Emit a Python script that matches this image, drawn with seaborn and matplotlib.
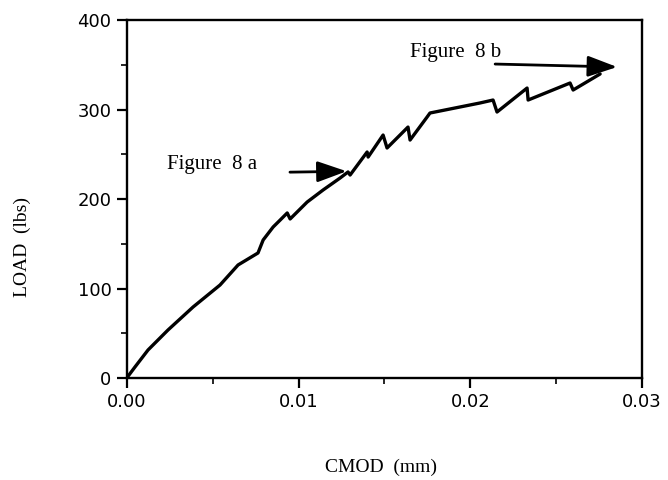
import matplotlib
matplotlib.use("Agg")
import matplotlib.pyplot as plt
import seaborn as sns
import pandas as pd
from matplotlib.ticker import MultipleLocator, FormatStrFormatter

# ---- data ----
cmod_mm = [0.0, 0.00048, 0.00124, 0.0024, 0.00386, 0.00543, 0.00648, 0.00764,
           0.00794, 0.00852, 0.00893, 0.00934, 0.00951, 0.0105, 0.01143, 0.01242,
           0.01288, 0.0130, 0.01399, 0.01405, 0.01492, 0.01515, 0.01637, 0.01649,
           0.01748, 0.01765, 0.02056, 0.02132, 0.02155, 0.0233, 0.02336, 0.0258,
           0.02598, 0.02755]
load_lbs = [0.0, 12.3, 31.3, 53.6, 79.3, 103.9, 126.3, 139.7,
            154.2, 168.7, 176.5, 184.4, 177.7, 196.6, 210.1, 223.5,
            230.2, 226.8, 252.5, 246.9, 271.5, 257.0, 280.4, 265.9,
            291.6, 296.1, 307.3, 310.6, 297.2, 324.0, 310.6, 329.6,
            321.8, 339.7]

x_ticks = [0.00, 0.01, 0.02, 0.03]
y_ticks = [0, 100, 200, 300, 400]

ann_a_text = "Figure  8 a"
ann_b_text = "Figure  8 b"

df = pd.DataFrame({"CMOD": cmod_mm, "LOAD": load_lbs})

sns.set_style("ticks")
plt.rcParams["font.family"] = ["DejaVu Sans"]

fig = plt.figure(figsize=(6.68, 4.8), dpi=100)
ax = fig.add_axes([0.1897, 0.2125, 0.7717, 0.7458])

sns.lineplot(data=df, x="CMOD", y="LOAD", sort=False, color="black",
             linewidth=2.4, ax=ax, estimator=None)

ax.set_xlim(0, 0.03)
ax.set_ylim(0, 400)
ax.set_xticks(x_ticks)
ax.set_yticks(y_ticks)
ax.xaxis.set_major_formatter(FormatStrFormatter("%.2f"))
ax.xaxis.set_minor_locator(MultipleLocator(0.005))
ax.yaxis.set_minor_locator(MultipleLocator(50))

for side in ["left", "bottom", "top", "right"]:
    ax.spines[side].set_visible(True)
    ax.spines[side].set_linewidth(1.7)
    ax.spines[side].set_color("black")

ax.tick_params(axis="both", which="major", direction="out", length=7, width=1.6,
               labelsize=13, pad=4, colors="black")
ax.tick_params(axis="both", which="minor", direction="out", length=4, width=1.4)
ax.tick_params(top=False, right=False, which="both")

serif = ["Liberation Serif", "DejaVu Serif"]
ax.set_xlabel("CMOD  (mm)", fontsize=14, family=serif, va="top", color="black")
ax.set_ylabel("LOAD  (lbs)", fontsize=14, family=serif, va="center", color="black")
ax.xaxis.set_label_coords(0.494, -0.225)
ax.yaxis.set_label_coords(-0.203, 0.366)

arrow_kw = dict(arrowstyle="-|>,head_length=0.9,head_width=0.32", color="black",
                lw=2.0, mutation_scale=20, shrinkA=0, shrinkB=0)

ax.annotate("", xy=(0.0128, 231), xytext=(0.0095, 230),
            arrowprops=arrow_kw)
ax.text(0.00235, 238, ann_a_text, fontsize=15, family=serif, va="center",
        ha="left", color="black")

ax.annotate("", xy=(0.02854, 347.5), xytext=(0.02144, 350.8),
            arrowprops=arrow_kw)
ax.text(0.01649, 364, ann_b_text, fontsize=15, family=serif, va="center",
        ha="left", color="black")

fig.savefig("out.png", dpi=100)
